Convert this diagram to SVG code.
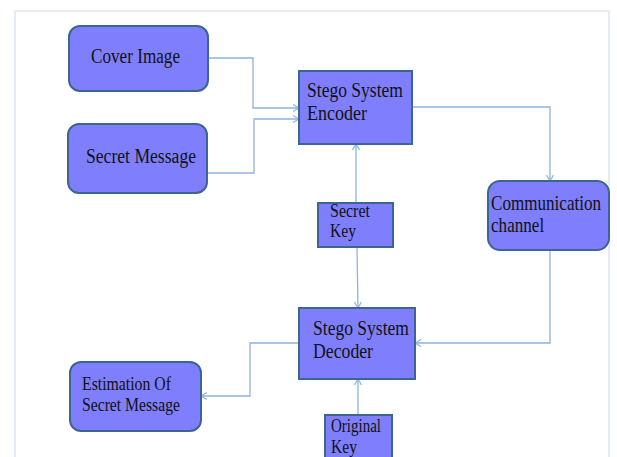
<svg xmlns="http://www.w3.org/2000/svg" width="617" height="457" viewBox="0 0 617 457">
<style>
.node{fill:#7f7ffd;stroke:#3d6592;stroke-width:2}
.t{font-family:"Liberation Serif","Times New Roman","DejaVu Serif",serif;font-size:20px;fill:#111}
.s{font-family:"Liberation Serif","Times New Roman","DejaVu Serif",serif;font-size:18px;fill:#111}
.c{fill:none;stroke:#8fb2dd;stroke-width:1.3}
</style>
<defs>
<marker id="a" markerWidth="10" markerHeight="10" refX="8" refY="5" orient="auto" markerUnits="userSpaceOnUse">
<path d="M2,1.5 L8,5 L2,8.5" fill="none" stroke="#8fb2dd" stroke-width="1.2"/>
</marker>
</defs>
<rect x="0" y="0" width="617" height="457" fill="#ffffff"/>
<path d="M15,470 V11 H609 V470" fill="none" stroke="#dfe6f2" stroke-width="1.6"/>
<g id="connectors">
<path class="c" d="M208,58 H253 V108 H299" marker-end="url(#a)"/>
<path class="c" d="M207,173 H254 V119 H299" marker-end="url(#a)"/>
<path class="c" d="M412,107 H550 V181" marker-end="url(#a)"/>
<path class="c" d="M356,203 V144" marker-end="url(#a)"/>
<path class="c" d="M357,247 L358,308" marker-end="url(#a)"/>
<path class="c" d="M550,250 V343 H415" marker-end="url(#a)"/>
<path class="c" d="M299,343 H250 V396 H201" marker-end="url(#a)"/>
<path class="c" d="M358,415 V379" marker-end="url(#a)"/>
</g>
<g id="cover-image">
<rect class="node" x="69" y="26" width="139" height="65" rx="11"/>
<text class="t" x="91" y="63" textLength="89" lengthAdjust="spacingAndGlyphs">Cover Image</text>
</g>
<g id="secret-message">
<rect class="node" x="68" y="124" width="139" height="69" rx="11"/>
<text class="t" x="86" y="163" textLength="110" lengthAdjust="spacingAndGlyphs">Secret Message</text>
</g>
<g id="encoder">
<rect class="node" x="299" y="71" width="113" height="73"/>
<text class="t" x="307" y="97" textLength="96" lengthAdjust="spacingAndGlyphs">Stego System</text>
<text class="t" x="307" y="120" textLength="60" lengthAdjust="spacingAndGlyphs">Encoder</text>
</g>
<g id="channel">
<rect class="node" x="488" y="181" width="121" height="69" rx="12"/>
<text class="t" transform="translate(491,210) scale(0.855,1)">Communication</text>
<text class="t" transform="translate(491,232) scale(0.855,1)">channel</text>
</g>
<g id="secret-key">
<rect class="node" x="318" y="203" width="75" height="44"/>
<text class="s" x="330" y="217" textLength="40" lengthAdjust="spacingAndGlyphs">Secret</text>
<text class="s" x="330" y="237" textLength="26" lengthAdjust="spacingAndGlyphs">Key</text>
</g>
<g id="decoder">
<rect class="node" x="299" y="308" width="116" height="71"/>
<text class="t" x="313" y="335" textLength="96" lengthAdjust="spacingAndGlyphs">Stego System</text>
<text class="t" x="313" y="358" textLength="60" lengthAdjust="spacingAndGlyphs">Decoder</text>
</g>
<g id="estimation">
<rect class="node" x="70" y="362" width="131" height="69" rx="11"/>
<text class="s" x="82" y="390" textLength="89" lengthAdjust="spacingAndGlyphs">Estimation Of</text>
<text class="s" x="82" y="411" textLength="98" lengthAdjust="spacingAndGlyphs">Secret Message</text>
</g>
<g id="original-key">
<rect class="node" x="325" y="415" width="67" height="50"/>
<text class="s" x="331" y="432" textLength="50" lengthAdjust="spacingAndGlyphs">Original</text>
<text class="s" x="331" y="453" textLength="26" lengthAdjust="spacingAndGlyphs">Key</text>
</g>
</svg>
